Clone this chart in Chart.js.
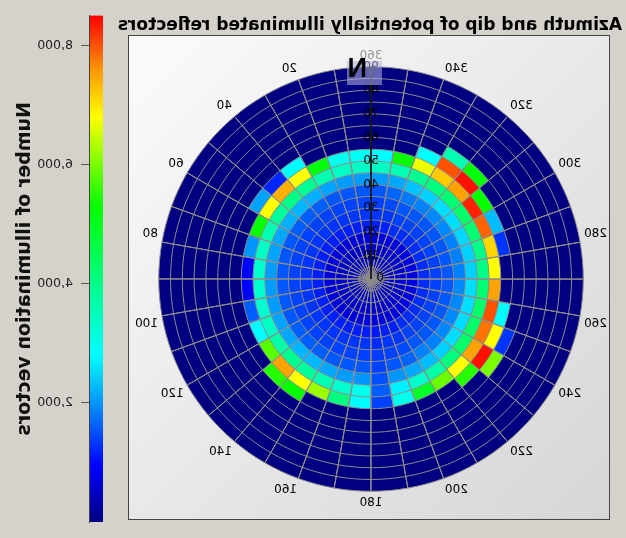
<!DOCTYPE html>
<html>
<head>
<meta charset="utf-8">
<script src="https://cdn.jsdelivr.net/npm/chart.js@4.4.1/dist/chart.umd.min.js"></script>
<style>
  html, body { margin: 0; padding: 0; background: #d5d2cc; }
  /* the reference picture is a mirror image, so the whole page is flipped */
  #page { position: relative; width: 626px; height: 538px; overflow: hidden; transform: scaleX(-1); font-family: "DejaVu Sans", sans-serif; }
  #title { position: absolute; left: 4px; top: 14px; width: 504px; text-align: center; font-weight: bold; font-size: 17px; color: #000; white-space: nowrap; }
  #box { position: absolute; left: 16px; top: 35px; width: 480px; height: 483px; border: 1px solid #444; background: linear-gradient(to bottom left, #fbfbfb, #d6d6d6); }
  #polar { position: absolute; left: 19px; top: 43px; }
  #bar { position: absolute; left: 510px; top: 0; }
  #nBox { position: absolute; left: 244px; top: 61px; width: 35px; height: 24px; background: rgba(180,180,225,0.55); }
  #nText { position: absolute; left: 259px; top: 53px; font: bold 27px "Liberation Sans", sans-serif; color: #000; }
  #zero { position: absolute; left: 242px; top: 270px; font-size: 12px; color: #000; }
</style>
</head>
<body>
<div id="page">
  <div id="title">Azimuth and dip of potentially illuminated reflectors</div>
  <div id="box"></div>
  <canvas id="polar" width="472" height="472"></canvas>
  <div id="nBox"></div>
  <div id="nText">N</div>
  <div id="zero">0</div>
  <canvas id="bar" width="116" height="538"></canvas>
</div>
<script>
// azimuth bins of 10 deg (labels every 20 deg), dip rings of 5 deg
const azLabels = ['360','','20','','40','','60','','80','','100','','120','','140','','160','',
                  '180','','200','','220','','240','','260','','280','','300','','320','','340',''];
const dipEdges = [5,10,15,20,25,30,35,40,45,50,55,60,65,70,75,80,85,90];
const colorTicks = [2000,4000,6000,8000];
const barTop = 8500;

// number of illumination vectors, one row per dip ring, one value per azimuth bin
const ring00 = [450,450,450,450,450,450,450,450,450,450,450,450,450,450,450,450,450,450,450,450,450,450,450,450,450,450,450,450,450,450,450,450,450,450,450,450];
const ring01 = [500,500,500,500,500,500,500,500,500,500,500,500,500,500,500,500,500,500,500,500,500,500,500,500,500,500,500,500,500,500,500,500,500,500,500,500];
const ring02 = [560,560,560,560,560,560,560,560,560,560,560,560,560,560,560,560,560,560,560,560,560,600,600,600,600,600,600,600,600,600,600,600,600,600,560,560];
const ring03 = [680,680,680,680,680,680,680,680,680,680,680,680,680,680,680,680,680,680,680,680,680,740,740,740,740,740,740,740,740,740,740,740,740,740,680,680];
const ring04 = [1150,1150,1150,1150,1150,1150,1150,1150,1150,1150,1150,1150,1150,1150,1150,1150,1150,1150,1100,1150,1150,1250,1250,1250,1250,1250,1250,1250,1250,1250,1250,1250,1250,1250,1150,1150];
const ring05 = [1300,1300,1300,1300,1300,1300,1300,1300,1300,1300,1300,1300,1300,1300,1300,1300,1300,1300,1250,1300,1300,1400,1400,1400,1400,1400,1400,1400,1400,1400,1400,1400,1400,1400,1300,1300];
const ring06 = [1400,1400,1400,1400,1400,1400,1400,1400,1400,1400,1400,1400,1400,1400,1400,1400,1400,1400,1350,1400,1450,1550,1550,1550,1550,1550,1550,1550,1550,1550,1550,1550,1550,1550,1450,1400];
const ring07 = [1550,1550,1550,1600,1600,1600,1550,1550,1550,1550,1550,1550,1600,1600,1600,1550,1550,1550,1400,1550,1650,1850,1850,1900,1900,1900,1900,1850,1850,1850,1900,1900,1850,1800,1650,1550];
const ring08 = [2050,2050,2100,2200,2250,2200,2150,2100,2050,2050,2050,2100,2150,2250,2250,2150,2050,2000,1500,2000,2150,2300,2450,2550,2550,2550,2550,2450,2450,2500,2550,2550,2450,2350,2150,2050];
const ring09 = [3400,3400,3600,3900,4000,3800,3600,3400,3300,3300,3300,3400,3700,3900,3800,3600,3300,3000,1600,2700,3300,3700,4100,4300,4300,4300,4200,4000,4000,4200,4300,4200,4100,3900,3600,3400];
const ring10 = [2900,3000,5200,6800,7400,6800,5300,2000,950,950,1600,2800,5800,7500,6800,6200,4100,2800,1400,3000,4900,5900,6800,7500,7800,8000,7500,6800,7100,7900,8300,7500,7200,6700,5300,2800];
const ring11 = [0,0,0,2800,1200,2100,0,0,0,0,0,0,0,5500,5300,0,0,0,0,0,0,0,5500,8400,6800,2800,0,0,1300,2300,5300,8400,8000,2800,0,0];
const ring12 = [0,0,0,0,0,0,0,0,0,0,0,0,0,0,0,0,0,0,0,0,0,0,0,6000,1300,0,0,0,0,0,0,5200,3600,0,0,0];
const ring13 = [0,0,0,0,0,0,0,0,0,0,0,0,0,0,0,0,0,0,0,0,0,0,0,0,0,0,0,0,0,0,0,0,0,0,0,0];
const ring14 = [0,0,0,0,0,0,0,0,0,0,0,0,0,0,0,0,0,0,0,0,0,0,0,0,0,0,0,0,0,0,0,0,0,0,0,0];
const ring15 = [0,0,0,0,0,0,0,0,0,0,0,0,0,0,0,0,0,0,0,0,0,0,0,0,0,0,0,0,0,0,0,0,0,0,0,0];
const ring16 = [0,0,0,0,0,0,0,0,0,0,0,0,0,0,0,0,0,0,0,0,0,0,0,0,0,0,0,0,0,0,0,0,0,0,0,0];
const ring17 = [0,0,0,0,0,0,0,0,0,0,0,0,0,0,0,0,0,0,0,0,0,0,0,0,0,0,0,0,0,0,0,0,0,0,0,0];
const counts = [ring00,ring01,ring02,ring03,ring04,ring05,ring06,ring07,ring08,ring09,
                ring10,ring11,ring12,ring13,ring14,ring15,ring16,ring17];

// colour scale (navy -> blue -> cyan -> green -> yellow -> red)
const stops = [[0,'#000080'],[0.11,'#0000ff'],[0.23,'#0090ff'],[0.33,'#00ffff'],[0.48,'#00ff80'],
               [0.62,'#00ff00'],[0.80,'#ffff00'],[0.89,'#ff9a00'],[1,'#ff0000']];
function hex(h) { return [1,3,5].map(i => parseInt(h.substr(i,2),16)); }
function colorFor(v) {
  const t = Math.max(0, Math.min(1, v / barTop));
  for (let i = 1; i < stops.length; i++) {
    if (t <= stops[i][0]) {
      const a = hex(stops[i-1][1]), b = hex(stops[i][1]);
      const f = (t - stops[i-1][0]) / (stops[i][0] - stops[i-1][0]);
      return 'rgb(' + a.map((c, k) => Math.round(c + (b[k]-c)*f)).join(',') + ')';
    }
  }
  return stops[stops.length-1][1];
}

Chart.defaults.font.family = '"DejaVu Sans", sans-serif';

new Chart(document.getElementById('polar'), {
  type: 'polarArea',
  data: {
    labels: azLabels,
    datasets: counts.map((row, k) => ({
      data: row.map(() => dipEdges[k]),
      backgroundColor: row.map(colorFor),
      borderColor: '#8c8c8c',
      borderWidth: 1
    }))
  },
  options: {
    responsive: false, animation: false, events: [],
    layout: { padding: 0 },
    plugins: { legend: { display: false }, tooltip: { enabled: false } },
    scales: {
      r: {
        min: 0, max: 90,
        startAngle: 0,
        grid: { display: false, z: 1 },
        angleLines: {
          display: true,
          color: ctx => ctx.index === 0 ? '#000' : '#8c8c8c',
          lineWidth: ctx => ctx.index === 0 ? 1.5 : 1
        },
        pointLabels: {
          display: true, padding: -2,
          font: { size: 12 },
          color: ctx => ctx.index === 0 ? '#9a9a9a' : '#000'
        },
        ticks: {
          z: 2, stepSize: 10, color: '#000', font: { size: 12 },
          showLabelBackdrop: false, backdropPadding: 0
        }
      }
    }
  }
});

new Chart(document.getElementById('bar'), {
  type: 'bar',
  data: {
    labels: [''],
    datasets: [{
      data: [barTop],
      borderWidth: 0, barPercentage: 1, categoryPercentage: 1,
      backgroundColor: ctx => {
        const ca = ctx.chart.chartArea;
        if (!ca) return '#000080';
        const g = ctx.chart.ctx.createLinearGradient(0, ca.bottom, 0, ca.top);
        stops.forEach(s => g.addColorStop(s[0], s[1]));
        return g;
      }
    }]
  },
  options: {
    responsive: false, animation: false, events: [],
    layout: { padding: { left: 13, top: 11, bottom: 16, right: 0 } },
    plugins: { legend: { display: false }, tooltip: { enabled: false } },
    scales: {
      x: { display: false },
      y: {
        position: 'right', min: 0, max: barTop,
        afterBuildTicks: a => { a.ticks = colorTicks.map(v => ({ value: v })); },
        afterFit: a => { a.width = 90; },
        grid: { drawOnChartArea: false, tickLength: 9, color: '#555' },
        border: { display: true, color: '#444', width: 1 },
        ticks: { color: '#222', font: { size: 12.5 }, padding: 8 },
        title: { display: true, text: 'Number of illumination vectors', color: '#111',
                 font: { size: 19, weight: 'bold' }, padding: { top: 14, bottom: 0 } }
      }
    }
  }
});
</script>
</body>
</html>
